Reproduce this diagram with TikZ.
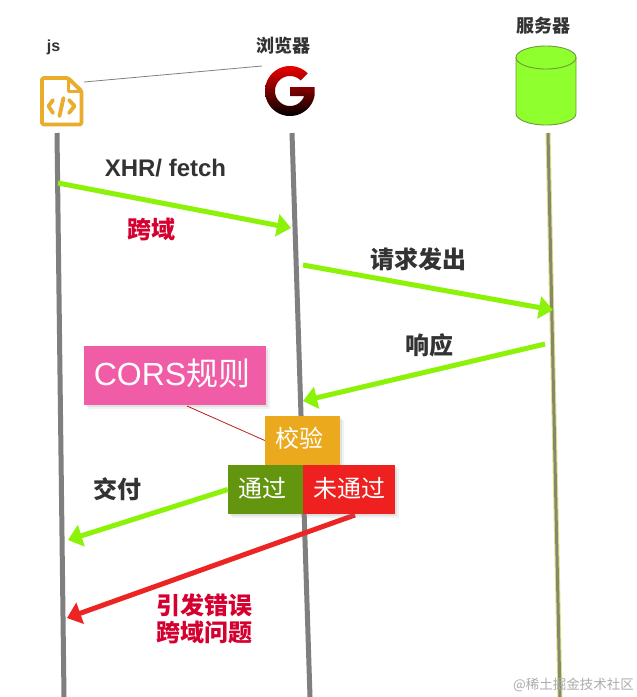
\documentclass[tikz,border=0pt]{standalone}
\usepackage{fontspec}
\setmainfont{Liberation Sans}
\newfontfamily\cjk{Noto Sans CJK SC}
\usetikzlibrary{arrows.meta,shadows}
\definecolor{lifegray}{HTML}{7F7F7F}
\definecolor{arrowgreen}{HTML}{8CF208}
\definecolor{arrowred}{HTML}{EC2424}
\definecolor{inkdark}{HTML}{333333}
\definecolor{crimson}{HTML}{D5002F}
\definecolor{iconorange}{HTML}{E9AC2B}
\definecolor{pinkbox}{HTML}{F05CA5}
\definecolor{amberbox}{HTML}{EBAA1E}
\definecolor{olivebox}{HTML}{63950F}
\definecolor{redbox}{HTML}{EE2020}
\definecolor{dbgreen}{HTML}{8FFF2E}
\definecolor{dbedge}{HTML}{6F9A3A}
\definecolor{svedge}{HTML}{DDE38A}
\definecolor{svcore}{HTML}{87876A}
\newcommand{\fs}[1]{\fontsize{#1}{#1}\selectfont}
\tikzset{
  lifeline/.style={draw=lifegray,line width=5pt},
  msg/.style={line width=5pt,-{Triangle[length=14pt,width=22pt]}},
  greenmsg/.style={msg,draw=arrowgreen},
  redmsg/.style={msg,draw=arrowred},
  head/.style={font=\fs{18}\cjk\bfseries,text=inkdark,inner sep=0pt},
  label/.style={font=\fs{24}\cjk\bfseries,text=inkdark,inner sep=0pt},
  redlabel/.style={font=\fs{24}\cjk\bfseries,text=crimson,inner sep=0pt,align=center},
  softshadow/.style={
    drop shadow={shadow xshift=2pt,shadow yshift=-2pt,opacity=.14},
    drop shadow={shadow xshift=4pt,shadow yshift=-4pt,opacity=.10}},
  box/.style={inner sep=0pt,text=white,minimum height=49pt,softshadow},
  boxtext/.style={inner sep=0pt,text=white,font=\fs{24}\cjk},
}
\begin{document}
\begin{tikzpicture}[x=1pt,y=-1pt]
\useasboundingbox[fill=white] (0,0) rectangle (637,697);

% lifeline end points
\coordinate (jsT) at (57,133);
\coordinate (jsB) at (64,697);
\coordinate (brT) at (292,133);
\coordinate (brB) at (310,697);
\coordinate (svT) at (548,133);
\coordinate (svB) at (560,697);
\draw[lifeline] (jsT) -- (jsB);
\draw[lifeline] (brT) -- (brB);
\draw[draw=svedge,line width=5pt] (svT) -- (svB);
\draw[draw=svcore,line width=3pt] (svT) -- (svB);

% headers
\node[head,font=\fs{16}\bfseries] (jsH) at (53.5,47) {js};
\node[head] (brH) at (283,45.5) {浏览器};
\node[head] (svH) at (543,25.5) {服务器};

% js file icon
\coordinate (iconR) at (84,82);
\coordinate (gL) at (262,66);
\draw[iconorange,line width=3.8pt,line join=round,rounded corners=1.5pt]
  (42,78) -- (68,78) -- (81.5,91) -- (81.5,124.5) -- (42,124.5) -- cycle;
\draw[iconorange,line width=3pt,line join=round] (68,78) -- (68,91) -- (81.5,91);
\draw[iconorange,line width=3.8pt,line cap=round,line join=round]
  (53,100) -- (48.5,106) -- (53,113);
\draw[iconorange,line width=3.8pt,line cap=round,line join=round]
  (69,100) -- (74.5,106) -- (69,113);
\draw[iconorange,line width=3.8pt,line cap=round] (63.5,98) -- (59.5,116);
\draw[gray,line width=.8pt] (iconR) -- (gL);

% browser G
\path[top color=red!92!black,bottom color=black,shading angle=0]
  plot[domain=-45:-350,samples=60] ({290+25*cos(\x)},{91+25*sin(\x)})
  -- (314.6,87) -- (290,87) -- (290,96) -- (304,96)
  -- plot[domain=19.5:315,samples=60] ({290+15*cos(\x)},{91+15*sin(\x)})
  -- cycle;

% server cylinder
\draw[fill=dbgreen,draw=dbedge,line width=.9pt]
  (516,57.5) -- (516,113.5) .. controls (516,119.85) and (529.4,125) .. (546,125)
  .. controls (562.6,125) and (576,119.85) .. (576,113.5) -- (576,57.5) -- cycle;
\draw[fill=dbgreen,draw=dbedge,line width=.9pt] (546,57.5) ellipse [x radius=30,y radius=11.5];

% labels
\node[label,font=\fs{24}\bfseries] (xhr) at (165.5,168) {XHR/ fetch};
\node[redlabel] (cross) at (151,229.5) {跨域};
\node[label] (req) at (418,259.5) {请求发出};
\node[label] (resp) at (429,345) {响应};
\node[label] (deliver) at (117,489) {交付};
\node[redlabel] (err) at (204,619) {引发错误\\[3pt]跨域问题};

% message anchors
\coordinate (m1a) at (58,183);
\coordinate (m1b) at (291,228);
\coordinate (m2a) at (303,265);
\coordinate (m2b) at (553,310);
\coordinate (m3a) at (545,344);
\coordinate (m3b) at (303,401);
\coordinate (m4b) at (68,540);
\coordinate (m5a) at (355,515);
\coordinate (m5b) at (67,618);
\draw[greenmsg] (m1a) -- (m1b);
\draw[greenmsg] (m2a) -- (m2b);
\draw[greenmsg] (m3a) -- (m3b);
\draw[redmsg] (m5a) -- (m5b);

% boxes
\node[box,fill=pinkbox,minimum width=182pt,minimum height=59pt] (cors) at (175,375.5) {};
\node[box,fill=amberbox,minimum width=75pt] (check) at (302.5,440.5) {};
\node[box,fill=olivebox,minimum width=75pt] (pass) at (265.5,489.5) {};
\node[box,fill=redbox,minimum width=92pt] (fail) at (349,489.5) {};
\node[boxtext,font=\fs{32}] (corsT) at (172,373) {CORS{\cjk 规则}};
\node[boxtext] (checkT) at (299,438.5) {校验};
\node[boxtext] (passT) at (262,488) {通过};
\node[boxtext] (failT) at (349,488) {未通过};

\coordinate (corsOut) at (187,406);
\draw[arrowred!80!black,line width=.8pt] (corsOut) -- (check.west);
\coordinate (m4a) at (pass.west);
\draw[greenmsg] (m4a) -- (m4b);

% watermark
\node[inner sep=0pt,text=gray!65,font=\fs{13.5}\cjk] (mark) at (573.5,685) {@稀土掘金技术社区};
\end{tikzpicture}
\end{document}
